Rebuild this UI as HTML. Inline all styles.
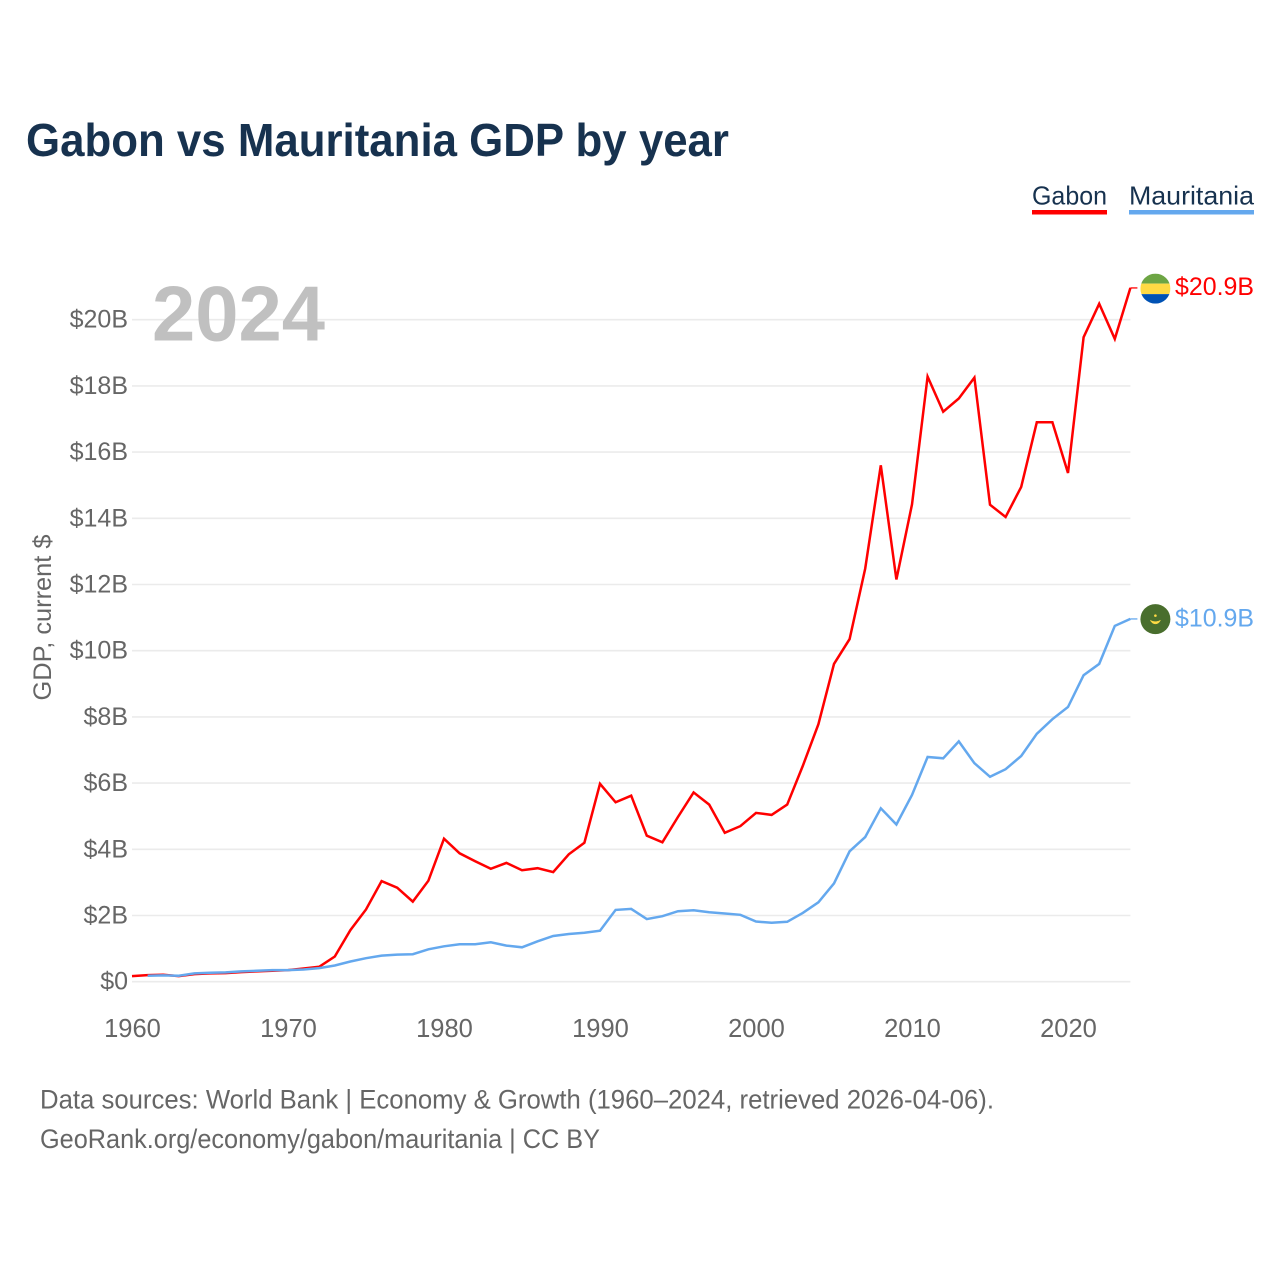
<!DOCTYPE html>
<html lang="en">
<head>
<meta charset="utf-8">
<title>Gabon vs Mauritania GDP by year</title>
<style>
html,body{margin:0;padding:0;background:#fff;}
svg{display:block;font-family:"Liberation Sans",sans-serif;}
</style>
</head>
<body>
<svg id="chart" width="1280" height="1280" viewBox="0 0 1280 1280" xmlns="http://www.w3.org/2000/svg">
  <rect x="0" y="0" width="1280" height="1280" fill="#ffffff"/>
  <text x="26" y="156" font-size="46" font-weight="700" fill="#17324f" textLength="703" lengthAdjust="spacingAndGlyphs">Gabon vs Mauritania GDP by year</text>

  <g>
    <g>
      <text x="1032" y="204.5" font-size="26" fill="#17324f" textLength="75" lengthAdjust="spacingAndGlyphs">Gabon</text>
      <rect x="1032" y="210" width="75" height="4.5" fill="#ff0000"/>
    </g>
    <g>
      <text x="1129" y="204.5" font-size="26" fill="#17324f" textLength="125" lengthAdjust="spacingAndGlyphs">Mauritania</text>
      <rect x="1129" y="210" width="125" height="4.5" fill="#64a8ee"/>
    </g>
  </g>

  <g id="grid"></g>
  <text x="152" y="340.5" font-size="78" font-weight="700" fill="#c0c0c0" textLength="173" lengthAdjust="spacingAndGlyphs">2024</text>
  <g id="yticks"></g>
  <g id="xticks"></g>
  <text transform="translate(51 617.5) rotate(-90)" text-anchor="middle" font-size="25" fill="#666666" textLength="166" lengthAdjust="spacingAndGlyphs">GDP, current $</text>
  <g id="series"></g>
  <g id="ends"></g>

  <text x="40" y="1108.5" font-size="26.5" fill="#666666" textLength="954" lengthAdjust="spacingAndGlyphs">Data sources: World Bank | Economy &amp; Growth (1960–2024, retrieved 2026-04-06).</text>
  <text x="40" y="1148" font-size="26.5" fill="#666666" textLength="560" lengthAdjust="spacingAndGlyphs">GeoRank.org/economy/gabon/mauritania | CC BY</text>
</svg>
<script>
const gabonYears = [1960,1961,1962,1963,1964,1965,1966,1967,1968,1969,1970,1971,1972,1973,1974,1975,1976,1977,1978,1979,1980,1981,1982,1983,1984,1985,1986,1987,1988,1989,1990,1991,1992,1993,1994,1995,1996,1997,1998,1999,2000,2001,2002,2003,2004,2005,2006,2007,2008,2009,2010,2011,2012,2013,2014,2015,2016,2017,2018,2019,2020,2021,2022,2023,2024];
const gabonValues = [0.17,0.2,0.21,0.17,0.23,0.25,0.26,0.29,0.31,0.33,0.35,0.4,0.45,0.76,1.56,2.18,3.04,2.84,2.42,3.05,4.32,3.88,3.64,3.41,3.59,3.37,3.43,3.31,3.85,4.2,5.98,5.42,5.62,4.41,4.21,4.98,5.72,5.35,4.5,4.7,5.1,5.04,5.35,6.52,7.78,9.6,10.35,12.48,15.6,12.15,14.42,18.28,17.22,17.62,18.25,14.41,14.04,14.95,16.9,16.9,15.37,19.47,20.48,19.42,20.96];
const mauritaniaYears = [1961,1962,1963,1964,1965,1966,1967,1968,1969,1970,1971,1972,1973,1974,1975,1976,1977,1978,1979,1980,1981,1982,1983,1984,1985,1986,1987,1988,1989,1990,1991,1992,1993,1994,1995,1996,1997,1998,1999,2000,2001,2002,2003,2004,2005,2006,2007,2008,2009,2010,2011,2012,2013,2014,2015,2016,2017,2018,2019,2020,2021,2022,2023,2024];
const mauritaniaValues = [0.18,0.19,0.18,0.25,0.27,0.28,0.31,0.33,0.35,0.35,0.37,0.41,0.49,0.61,0.71,0.79,0.82,0.83,0.98,1.07,1.13,1.13,1.19,1.09,1.04,1.22,1.38,1.44,1.48,1.54,2.17,2.2,1.89,1.98,2.13,2.16,2.1,2.06,2.02,1.82,1.78,1.81,2.08,2.4,2.97,3.94,4.37,5.24,4.75,5.64,6.79,6.75,7.26,6.6,6.19,6.42,6.82,7.49,7.93,8.3,9.26,9.6,10.75,10.96];
const yTickValues = [0,2,4,6,8,10,12,14,16,18,20];
const yTickLabels = ["$0","$2B","$4B","$6B","$8B","$10B","$12B","$14B","$16B","$18B","$20B"];
const xTickValues = [1960,1970,1980,1990,2000,2010,2020];
const xTickLabels = ["1960","1970","1980","1990","2000","2010","2020"];
const gabonEndLabel = "$20.9B";
const mauritaniaEndLabel = "$10.9B";

const NS = "http://www.w3.org/2000/svg";
const x = year => 132 + (year - 1960) * 15.6;
const y = v => 981.7 - v * 33.1;
const make = (tag, parent) => {
  const el = document.createElementNS(NS, tag);
  parent.appendChild(el);
  return el;
};
const set = (el, attrs) => {
  Object.keys(attrs).forEach(k => el.setAttribute(k, attrs[k]));
  return el;
};

const grid = document.getElementById("grid");
const yticks = document.getElementById("yticks");
const xticks = document.getElementById("xticks");
const series = document.getElementById("series");
const ends = document.getElementById("ends");
const lastYear = 2024;

yTickValues.forEach((v, i) => {
  const line = make("line", grid);
  
  
  set(line, {x1: x(1960), x2: x(lastYear), y1: y(v), y2: y(v), stroke: "#ebebeb", "stroke-width": 1.6});
  const t = make("text", yticks);
  
  
  set(t, {x: 128, y: y(v) + 8, "text-anchor": "end", "font-size": 25, fill: "#666666"});
  t.textContent = yTickLabels[i];
});

xTickValues.forEach((v, i) => {
  const t = make("text", xticks);
  
  
  set(t, {x: x(v) + 0.5, y: 1037, "text-anchor": "middle", "font-size": 25.5, fill: "#666666"});
  t.textContent = xTickLabels[i];
});

function drawLine(years, values, color, name) {
  const pts = years.map((yr, i) => x(yr).toFixed(1) + "," + y(values[i]).toFixed(1));
  const line = make("polyline", series);
  
  
  set(line, {points: pts.join(" "), fill: "none", stroke: color, "stroke-width": 2.5, "stroke-linejoin": "miter", "stroke-miterlimit": 4});
  const lastV = values[values.length - 1];
  const stub = make("line", series);
  
  
  set(stub, {x1: x(years[years.length - 1]), x2: x(years[years.length - 1]) + 7, y1: y(lastV), y2: y(lastV), stroke: color, "stroke-width": 1.6, opacity: 0.8});
}
drawLine(gabonYears, gabonValues, "#ff0000", "gabon-line");
drawLine(mauritaniaYears, mauritaniaValues, "#64a8ee", "mauritania-line");

const fx = x(lastYear) + 25;
const gy = y(gabonValues[gabonValues.length - 1]) + 0.7;
const my = y(mauritaniaValues[mauritaniaValues.length - 1]) + 0.2;

const clipDefs = make("defs", ends);
const clip = make("clipPath", clipDefs);
set(clip, {id: "gabon-clip"});
set(make("circle", clip), {cx: fx, cy: gy, r: 15});

const gf = make("g", ends);


set(gf, {"clip-path": "url(#gabon-clip)"});
set(make("rect", gf), {x: fx - 15, y: gy - 15, width: 30, height: 10, fill: "#6da544"});
set(make("rect", gf), {x: fx - 15, y: gy - 5, width: 30, height: 10.5, fill: "#ffda44"});
set(make("rect", gf), {x: fx - 15, y: gy + 5.5, width: 30, height: 9.5, fill: "#0052b4"});

const mf = make("g", ends);


set(make("circle", mf), {cx: fx, cy: my, r: 15, fill: "#496e2d"});
set(make("path", mf), {d: "M" + (fx - 5) + " " + (my + 1) + " a5.2 5.2 0 0 0 10 0 a6 3.4 0 0 1 -10 0 z", fill: "#ffda44", stroke: "#ffda44", "stroke-width": 0.5});
set(make("circle", mf), {cx: fx, cy: my - 3.5, r: 1.3, fill: "#ffda44"});

const gl = make("text", ends);


set(gl, {x: 1254, y: gy + 6.5, "text-anchor": "end", "font-size": 25, fill: "#ff0000", textLength: 79, lengthAdjust: "spacingAndGlyphs"});
gl.textContent = gabonEndLabel;

const ml = make("text", ends);


set(ml, {x: 1254, y: my + 7.5, "text-anchor": "end", "font-size": 25, fill: "#64a8ee", textLength: 79, lengthAdjust: "spacingAndGlyphs"});
ml.textContent = mauritaniaEndLabel;
</script>
</body>
</html>
